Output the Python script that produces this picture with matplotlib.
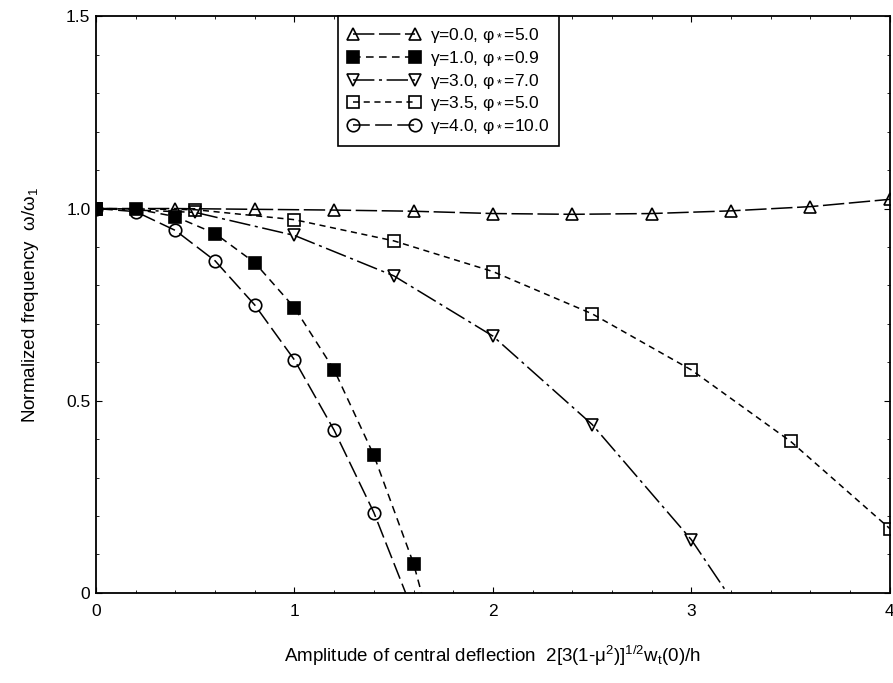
import matplotlib.pyplot as plt
from matplotlib.ticker import MultipleLocator

plt.rcParams['font.family'] = ['Liberation Sans', 'DejaVu Sans']
plt.rcParams['mathtext.default'] = 'regular'

# gamma = 0.0, phi* = 5.0
x_g0 = [0, 0.4, 0.8, 1.2, 1.6, 2.0, 2.4, 2.8, 3.2, 3.6, 4.0]
y_g0 = [1.0, 1.0, 0.998, 0.996, 0.993, 0.987, 0.985, 0.987, 0.994, 1.005, 1.024]

# gamma = 1.0, phi* = 0.9
x_g1 = [0, 0.2, 0.4, 0.6, 0.8, 1.0, 1.2, 1.4, 1.6]
y_g1 = [1.0, 0.999, 0.979, 0.935, 0.859, 0.742, 0.58, 0.358, 0.076]

# gamma = 3.0, phi* = 7.0
x_g3 = [0, 0.5, 1.0, 1.5, 2.0, 2.5, 3.0]
y_g3 = [1.0, 0.99, 0.93, 0.825, 0.668, 0.438, 0.138]

# gamma = 3.5, phi* = 5.0
x_g35 = [0, 0.5, 1.0, 1.5, 2.0, 2.5, 3.0, 3.5, 4.0]
y_g35 = [1.0, 0.997, 0.971, 0.916, 0.836, 0.726, 0.58, 0.394, 0.167]

# gamma = 4.0, phi* = 10.0
x_g4 = [0, 0.2, 0.4, 0.6, 0.8, 1.0, 1.2, 1.4]
y_g4 = [1.0, 0.992, 0.943, 0.864, 0.749, 0.606, 0.423, 0.209]

# where the curves run down to zero frequency
x_end_g1 = 1.64
x_end_g3 = 3.18
x_end_g4 = 1.56

labels = ['γ=0.0, φ$_*$=5.0', 'γ=1.0, φ$_*$=0.9', 'γ=3.0, φ$_*$=7.0',
          'γ=3.5, φ$_*$=5.0', 'γ=4.0, φ$_*$=10.0']

fig = plt.figure(figsize=(8.93, 6.83), dpi=100)
ax = fig.add_axes([0.1075, 0.132, 0.889, 0.844])

series = [
    (x_g0, y_g0, x_g0, y_g0, (14, 3), dict(marker='^', ms=9, mfc='none')),
    (x_g3, y_g3, x_g3 + [x_end_g3], y_g3 + [0.0], (14, 3, 2, 3), dict(marker='v', ms=9, mfc='none')),
    (x_g35, y_g35, x_g35, y_g35, (4, 3), dict(marker='s', ms=8, mfc='none')),
    (x_g4, y_g4, x_g4 + [x_end_g4], y_g4 + [0.0], (11, 3.5), dict(marker='o', ms=9, mfc='none')),
    (x_g1, y_g1, x_g1 + [x_end_g1], y_g1 + [0.0], (5, 3.5), dict(marker='s', ms=8, mfc='k')),
]
handles = []
for xm, ym, xl, yl, dash, mk in series:
    ln, = ax.plot(xl, yl, color='k', lw=1.1, dashes=dash)
    mp, = ax.plot(xm, ym, ls='none', color='k', mec='k', mew=1.2, **mk)
    handles.append((ln, mp))

# legend order follows gamma
order = [0, 4, 1, 2, 3]
leg = ax.legend([handles[i] for i in order], labels, loc='upper left',
                bbox_to_anchor=(0.305, 1.0), borderaxespad=0, numpoints=2,
                handlelength=4.2, fontsize=12.5, fancybox=False, framealpha=1,
                edgecolor='k', borderpad=0.55, labelspacing=0.22,
                handletextpad=0.55)
leg.get_frame().set_linewidth(1.2)

ax.set_xlim(0, 4)
ax.set_ylim(0, 1.5)
ax.set_xticks([0, 1, 2, 3, 4])
ax.set_yticks([0, 0.5, 1.0, 1.5])
ax.set_yticklabels(['0', '0.5', '1.0', '1.5'])
ax.xaxis.set_minor_locator(MultipleLocator(0.2))
ax.yaxis.set_minor_locator(MultipleLocator(0.1))
ax.tick_params(which='both', direction='in', top=True, right=True, labelsize=12.5)
ax.tick_params(which='major', length=4)
ax.tick_params(which='minor', length=2.5)
ax.tick_params(axis='x', pad=8)
ax.tick_params(axis='y', pad=4)
for s in ax.spines.values():
    s.set_linewidth(1.3)

ax.set_xlabel('Amplitude of central deflection  2[3(1-μ$^2$)]$^{1/2}$w$_t$(0)/h',
              fontsize=13.5, labelpad=18)
ax.set_ylabel('Normalized frequency  ω/ω$_1$', fontsize=13.5, labelpad=18)

fig.savefig('out.png', dpi=100)
